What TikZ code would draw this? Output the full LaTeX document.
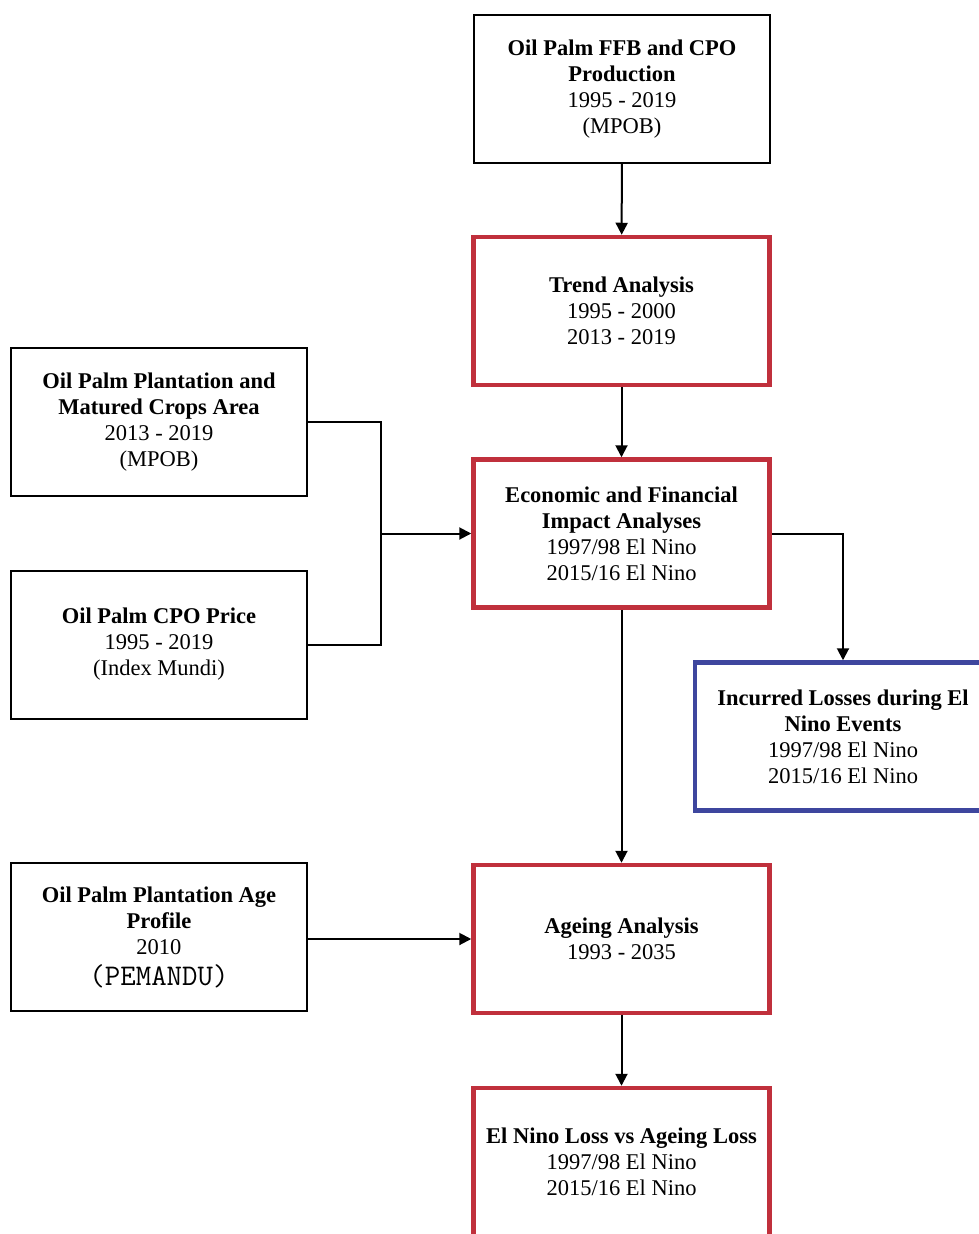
\documentclass[tikz,border=0pt]{standalone}
\usepackage{fontspec}
\setmainfont{Liberation Serif}
\usetikzlibrary{arrows.meta}
\definecolor{boxred}{RGB}{192,48,60}
\definecolor{boxblue}{RGB}{62,70,158}
\tikzset{
  basebox/.style={rectangle, minimum width=296pt, minimum height=148pt, inner sep=0pt,
    align=center, font=\fontsize{22.5}{26}\selectfont, text=black},
  blackbox/.style={basebox, draw=black, line width=2pt},
  redbox/.style={basebox, draw=boxred, line width=4.5pt},
  bluebox/.style={basebox, draw=boxblue, line width=4.5pt},
  conn/.style={draw=black, line width=2pt},
  arr/.style={conn, -{Triangle[length=12pt,width=12pt]}}
}
\begin{document}
\begin{tikzpicture}[x=1pt,y=-1pt]
\useasboundingbox (0,0) rectangle (979,1234);
\fill[white] (0,0) rectangle (979,1234);
\clip (0,0) rectangle (979,1234);

\node[blackbox] (top) at (622,89) {\textbf{Oil Palm FFB and CPO}\\\textbf{Production}\\1995 - 2019\\(MPOB)};
\node[redbox] (trend) at (621.5,311) {\textbf{Trend Analysis}\\1995 - 2000\\2013 - 2019};
\node[redbox] (econ) at (621.5,533.5) {\textbf{Economic and Financial}\\\textbf{Impact Analyses}\\1997/98 El Nino\\2015/16 El Nino};
\node[blackbox] (area) at (159,422) {\textbf{Oil Palm Plantation and}\\\textbf{Matured Crops Area}\\2013 - 2019\\(MPOB)};
\node[blackbox] (price) at (159,644.5) {\textbf{Oil Palm CPO Price}\\1995 - 2019\\(Index Mundi)};
\node[bluebox] (loss) at (843,736.5) {\textbf{Incurred Losses during El}\\\textbf{Nino Events}\\1997/98 El Nino\\2015/16 El Nino};
\node[redbox] (age) at (621.5,939) {\textbf{Ageing Analysis}\\1993 - 2035};
\node[blackbox] (profile) at (159,937) {\textbf{Oil Palm Plantation Age}\\\textbf{Profile}\\2010\\[5pt]{\ttfamily\fontsize{30}{30}\selectfont(PEMANDU)}};
\node[redbox] (final) at (621.5,1162) {\textbf{El Nino Loss vs Ageing Loss}\\1997/98 El Nino\\2015/16 El Nino};

\coordinate (join) at (381,533.5);

\draw[arr] (top) -- (trend);
\draw[arr] (trend) -- (econ);
\draw[conn] (area.east) -| (join);
\draw[conn] (price.east) -| (join);
\draw[arr] (join) -- (econ.west);
\draw[arr] (econ.east) -| (loss.north);
\draw[arr] (econ) -- (age);
\draw[arr] (profile.east |- age.west) -- (age.west);
\draw[arr] (age) -- (final);
\end{tikzpicture}
\end{document}
